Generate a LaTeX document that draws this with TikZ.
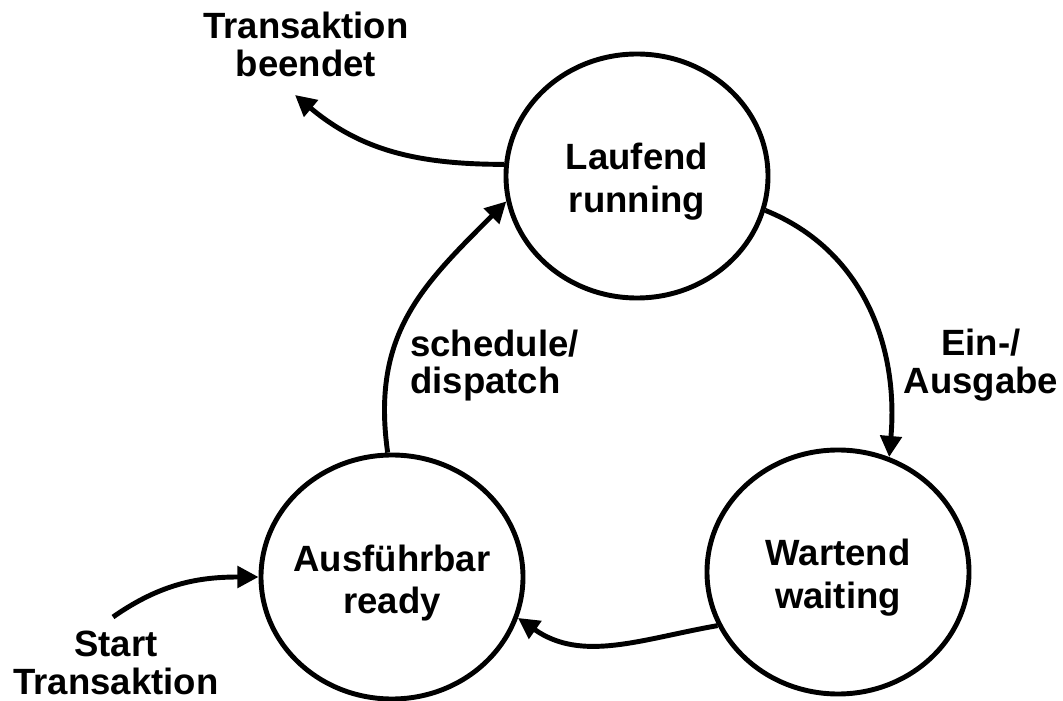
\documentclass[tikz,border=0pt]{standalone}
\usepackage{fontspec}
\setmainfont{Liberation Sans}
\usetikzlibrary{shapes.geometric,arrows.meta}
\tikzset{
  zustand/.style={
    draw, ellipse, line width=2.8pt,
    minimum width=5.24cm, minimum height=4.88cm
  },
  zustandtext/.style={
    align=center, inner sep=0pt, yshift=-0.12cm,
    font=\fontsize{20.8}{24.4}\selectfont\bfseries
  },
  beschriftung/.style={
    align=center, inner sep=0pt,
    font=\fontsize{20.8}{21.5}\selectfont\bfseries
  },
  uebergang/.style={
    line width=2.8pt, -{Triangle[length=12pt,width=12pt]}
  },
}
\begin{document}
\begin{tikzpicture}
  \useasboundingbox (0,0) rectangle (21.26,14.02);

  \node[zustand, label={[zustandtext]center:Laufend\\running}] (lauf) at (12.74,10.50) {};
  \node[zustand, label={[zustandtext]center:Ausführbar\\ready}] (ausf) at (7.84,2.48) {};
  \node[zustand, label={[zustandtext]center:Wartend\\waiting}] (wart) at (16.76,2.58) {};

  \node[beschriftung] (beendet) at (6.12,13.13) {Transaktion\\beendet};
  \node[beschriftung] (start) at (2.32,0.76) {Start\\Transaktion};
  \node[beschriftung, align=left, anchor=west] (sched) at (8.2,6.71) {schedule/\\dispatch};
  \node[beschriftung] (einaus) at (19.62,6.72) {Ein-/\\Ausgabe};

  \coordinate (endpt) at (5.90,12.12);
  \coordinate (startpt) at (2.26,1.68);

  \draw[uebergang] (lauf.175) to[out=180,in=-40] (endpt);
  \draw[uebergang] (ausf.92) to[out=98,in=-135,looseness=1.1] (lauf.191);
  \draw[uebergang] (lauf.-15) to[out=-22,in=85] (wart.66);
  \draw[uebergang] (wart.204) to[out=190,in=-35] (ausf.-18);
  \draw[uebergang] (startpt) to[out=35,in=180] (ausf.180);
\end{tikzpicture}
\end{document}
